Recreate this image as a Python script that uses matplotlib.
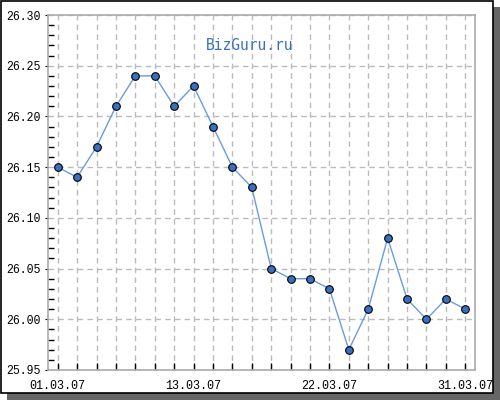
import numpy as np
import matplotlib.pyplot as plt
from matplotlib.patches import Rectangle
from matplotlib.ticker import MultipleLocator

# курс по торговым дням марта 2007
dates = ['01.03.07', '02.03.07', '05.03.07', '06.03.07', '07.03.07', '09.03.07',
         '10.03.07', '13.03.07', '14.03.07', '15.03.07', '16.03.07', '17.03.07',
         '20.03.07', '21.03.07', '22.03.07', '23.03.07', '24.03.07', '27.03.07',
         '28.03.07', '29.03.07', '30.03.07', '31.03.07']
rates = [26.15, 26.14, 26.17, 26.21, 26.24, 26.24, 26.21, 26.23, 26.19, 26.15,
         26.13, 26.05, 26.04, 26.04, 26.03, 25.97, 26.01, 26.08, 26.02, 26.00,
         26.02, 26.01]
label_idx = [0, 7, 14, 21]

mono = 'Liberation Mono'

fig = plt.figure(figsize=(5, 4), dpi=100)
# тень и рамка
fig.patches.append(Rectangle((7/500, 0), 493/500, 393/400, transform=fig.transFigure,
                             facecolor='#666666', edgecolor='none', zorder=-2))
fig.patches.append(Rectangle((0.5/500, 7/400), 492/500, 392.5/400, transform=fig.transFigure,
                             facecolor='white', edgecolor='black', linewidth=1.2, zorder=-1))

ax = fig.add_axes([48/500, 30/400, 427/500, 355/400])
ax.set_facecolor('white')
x = np.arange(len(rates))
ax.plot(x, rates, color='#6a9be0', linewidth=1, zorder=3)
ax.plot(x, rates, 'o', markersize=5.5, markerfacecolor='#3a70c0',
        markeredgecolor='black', markeredgewidth=0.8, zorder=4)

ax.set_xlim(-0.5, len(rates) - 0.5)
ax.set_ylim(25.95, 26.30)

ax.set_xticks(x)
ax.set_xticklabels([dates[i] if i in label_idx else '' for i in x],
                   fontfamily=mono, fontsize=8.5)
ax.yaxis.set_major_locator(MultipleLocator(0.05))
ax.yaxis.set_minor_locator(MultipleLocator(0.01))
ax.set_yticklabels(['%.2f' % v for v in ax.get_yticks()], fontfamily=mono, fontsize=8.3)

ax.tick_params(axis='x', direction='in', length=5, width=1, color='black', pad=7.5)
ax.tick_params(axis='y', which='major', direction='out', length=2.5, color='black', pad=2.5)
ax.tick_params(axis='y', which='minor', direction='in', length=4, width=1, color='black')

ax.grid(True, which='major', color='#bbbbbb', linestyle=(0, (4, 3)), linewidth=1)
for s in ax.spines.values():
    s.set_color('#aaaaaa')
    s.set_linewidth(1.2)

fig.text(250/500, 1 - 45/400, 'BizGuru.ru', ha='center', va='center',
         fontfamily='DejaVu Sans Mono', fontsize=10.5, color='#3a70c0')

fig.savefig('out.png', dpi=100)
